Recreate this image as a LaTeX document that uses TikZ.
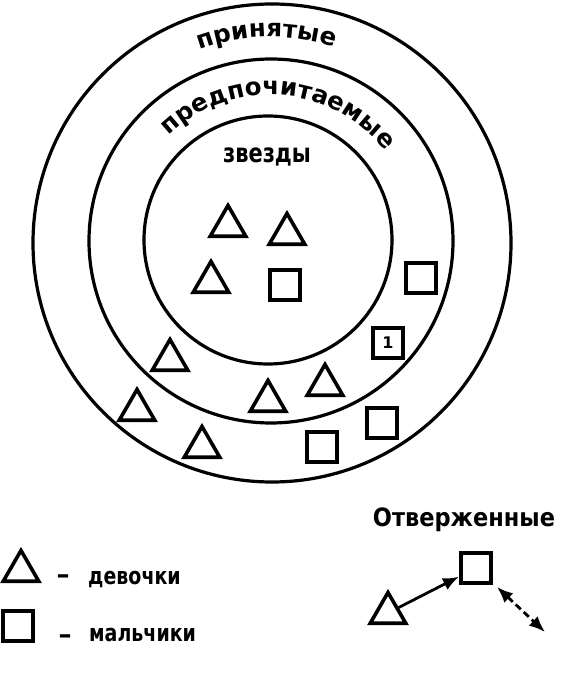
\documentclass[tikz,border=0pt]{standalone}
\usepackage{fontspec}
\usepackage{graphicx}
\setmainfont{DejaVu Sans}
\usetikzlibrary{shapes.geometric,arrows.meta,decorations.text,calc}
\newcommand\arcfont{\bfseries\fontsize{24.5}{28}\selectfont}
\newcommand\tallbox[1]{\scalebox{1}[1.25]{#1}}
\begin{document}
\begin{tikzpicture}[x=1pt,y=1pt,
  ring/.style={draw, line width=3.2pt},
  girl/.style={draw, line width=3.6pt, regular polygon, regular polygon sides=3, minimum size=41pt, inner sep=0pt},
  boy/.style={draw, line width=3.6pt, rectangle, minimum size=30.5pt, inner sep=0pt},
  lbl/.style={font=\bfseries\fontsize{19}{23}\selectfont, inner sep=0pt},
  link/.style={line width=2.8pt, -{Latex[length=16pt,width=13pt]}},
]
\useasboundingbox (0,0) rectangle (561,694);
% rings
\draw[ring] (272,451) circle[radius=239];
\draw[ring] (271,453) circle[radius=182];
\draw[ring] (268,454) circle[radius=124];
% curved labels
\coordinate (c) at (270,453);
\coordinate (a1) at ($(c)+(141:204)$);
\coordinate (a2) at ($(c)+(156:146)$);
\path[decorate, decoration={text along path, text={|\arcfont|принятые}, text align=center}]
  (a1) arc[start angle=141, end angle=41, radius=204];
\path[decorate, decoration={text along path, text={|\arcfont|предпочитаемые}, text align=center}]
  (a2) arc[start angle=156, end angle=16, radius=146];
\node[lbl, font=\bfseries\fontsize{21}{25}\selectfont, anchor=base] (stars) at (267,531) {\tallbox{звезды}};
% girls
\node[girl] (t1) at (228,468) {};
\node[girl] (t2) at (287,460) {};
\node[girl] (t3) at (211,412) {};
\node[girl] (t4) at (170,334) {};
\node[girl] (t5) at (268,293) {};
\node[girl] (t6) at (325,309) {};
\node[girl] (t7) at (202,247) {};
\node[girl] (t8) at (137,284) {};
% boys
\node[boy] (s1) at (285,409) {};
\node[boy] (s2) at (421,416) {};
\node[boy, font=\bfseries\fontsize{16}{16}\selectfont] (s3) at (388,351) {1};
\node[boy] (s4) at (382,271) {};
\node[boy] (s5) at (322,247) {};
% legend
\node[girl] (lt) at (21,123) {};
\node[lbl, font=\bfseries\fontsize{26}{28}\selectfont] (ld1) at (63,115) {–};
\node[lbl, anchor=base west] (lg) at (88,109) {\tallbox{девочки}};
\node[boy] (ls) at (18,68) {};
\node[lbl, font=\bfseries\fontsize{26}{28}\selectfont] (ld2) at (65,55) {–};
\node[lbl, anchor=base west] (lb) at (89,52) {\tallbox{мальчики}};
% rejected
\node[lbl, font=\bfseries\fontsize{22.5}{26}\selectfont, anchor=base] (rej) at (464,167) {\scalebox{1}[1.12]{Отверженные}};
\node[girl] (rt) at (388,81) {};
\node[boy] (rs) at (476,126) {};
\draw[link] (rt) -- (rs);
\coordinate (dA) at (497,107);
\coordinate (dB) at (545,62);
\draw[link, dash pattern=on 7pt off 4pt, {Latex[length=16pt,width=13pt]}-{Latex[length=16pt,width=13pt]}] (dA) -- (dB);
\end{tikzpicture}
\end{document}
